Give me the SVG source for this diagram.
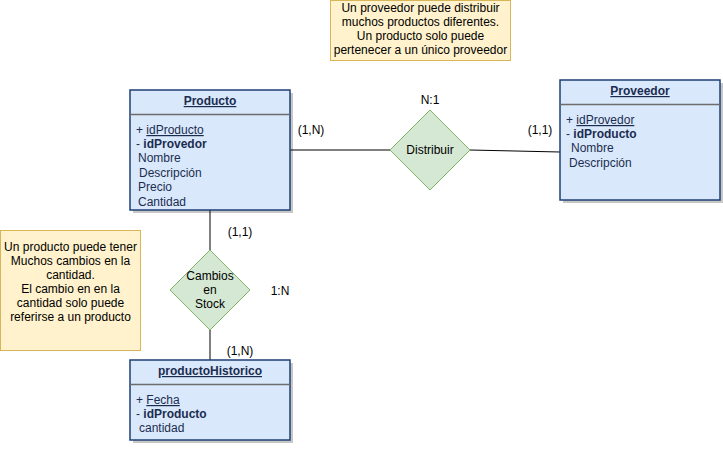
<svg xmlns="http://www.w3.org/2000/svg" width="723" height="449" viewBox="0 0 723 449">
<style>
text{font-family:"Liberation Sans",Arial,sans-serif;font-size:12px}
.ent{fill:#dae8fc;stroke:#1e3f73;stroke-width:1.5}
.sh{fill:#000;opacity:0.22}
.sep{stroke:#6c6c6c;stroke-width:1.5}
.t{fill:#1a2d50}
.ttl{font-weight:bold;text-decoration:underline;text-anchor:middle}
.u{text-decoration:underline}
.b{font-weight:bold}
.rel{fill:#d5e8d4;stroke:#82b366;stroke-width:1}
.note{fill:#fff2cc;stroke:#d6b656;stroke-width:1}
.lbl{fill:#000}
.c{text-anchor:middle}
.ln{stroke:#000;stroke-width:1;fill:none}
</style>
<g id="connectors">
<path class="ln" d="M290 150 L390 150"/>
<path class="ln" d="M470 150 L560 152"/>
<path class="ln" d="M210 210 L210 250"/>
<path class="ln" d="M210 330 L210 360"/>
</g>
<g id="note-top">
<rect class="note" x="330.5" y="0.5" width="180" height="60"/>
<text class="lbl c" x="420.5" y="12">Un proveedor puede distribuir</text>
<text class="lbl c" x="420.5" y="26">muchos productos diferentes.</text>
<text class="lbl c" x="420.5" y="40">Un producto solo puede</text>
<text class="lbl c" x="420.5" y="54">pertenecer a un único proveedor</text>
</g>
<g id="note-left">
<rect class="note" x="0.5" y="230.5" width="140" height="120"/>
<text class="lbl c" x="70.5" y="251">Un producto puede tener</text>
<text class="lbl c" x="70.5" y="265">Muchos cambios en la</text>
<text class="lbl c" x="70.5" y="279">cantidad.</text>
<text class="lbl c" x="70.5" y="293">El cambio en en la</text>
<text class="lbl c" x="70.5" y="307">cantidad solo puede</text>
<text class="lbl c" x="70.5" y="321">referirse a un producto</text>
</g>
<g id="producto">
<rect class="sh" x="133" y="93" width="160" height="120"/>
<rect class="ent" x="130" y="90" width="160" height="120"/>
<line class="sep" x1="130" y1="114.5" x2="290" y2="114.5"/>
<text class="t ttl" x="210" y="105">Producto</text>
<text class="t" x="136" y="134">+ <tspan class="u">idProducto</tspan></text>
<text class="t" x="136" y="148">- <tspan class="b">idProvedor</tspan></text>
<text class="t" x="138" y="162">Nombre</text>
<text class="t" x="139" y="177">Descripción</text>
<text class="t" x="138" y="191">Precio</text>
<text class="t" x="138" y="206">Cantidad</text>
</g>
<g id="proveedor">
<rect class="sh" x="563" y="83" width="160" height="120"/>
<rect class="ent" x="560" y="80" width="160" height="120"/>
<line class="sep" x1="560" y1="104.5" x2="720" y2="104.5"/>
<text class="t ttl" x="640" y="95">Proveedor</text>
<text class="t" x="566" y="124">+ <tspan class="u">idProvedor</tspan></text>
<text class="t" x="566" y="138">- <tspan class="b">idProducto</tspan></text>
<text class="t" x="571" y="152">Nombre</text>
<text class="t" x="569" y="167">Descripción</text>
</g>
<g id="productoHistorico">
<rect class="sh" x="133" y="363" width="160" height="80"/>
<rect class="ent" x="130" y="360" width="160" height="80"/>
<line class="sep" x1="130" y1="384.5" x2="290" y2="384.5"/>
<text class="t ttl" x="210" y="375">productoHistorico</text>
<text class="t" x="136" y="404">+ <tspan class="u">Fecha</tspan></text>
<text class="t" x="136" y="418">- <tspan class="b">idProducto</tspan></text>
<text class="t" x="139" y="432">cantidad</text>
</g>
<g id="distribuir">
<polygon class="rel" points="430,110 470,150 430,190 390,150"/>
<text class="lbl c" x="430" y="154">Distribuir</text>
</g>
<g id="cambios">
<polygon class="rel" points="210,250 250,290 210,330 170,290"/>
<text class="lbl c" x="210" y="280">Cambios</text>
<text class="lbl c" x="210" y="294">en</text>
<text class="lbl c" x="210" y="308">Stock</text>
</g>
<g id="labels">
<text class="lbl c" x="311" y="134">(1,N)</text>
<text class="lbl c" x="540" y="134">(1,1)</text>
<text class="lbl c" x="430" y="104">N:1</text>
<text class="lbl c" x="240" y="236">(1,1)</text>
<text class="lbl c" x="280" y="295">1:N</text>
<text class="lbl c" x="240" y="355">(1,N)</text>
</g>
</svg>
